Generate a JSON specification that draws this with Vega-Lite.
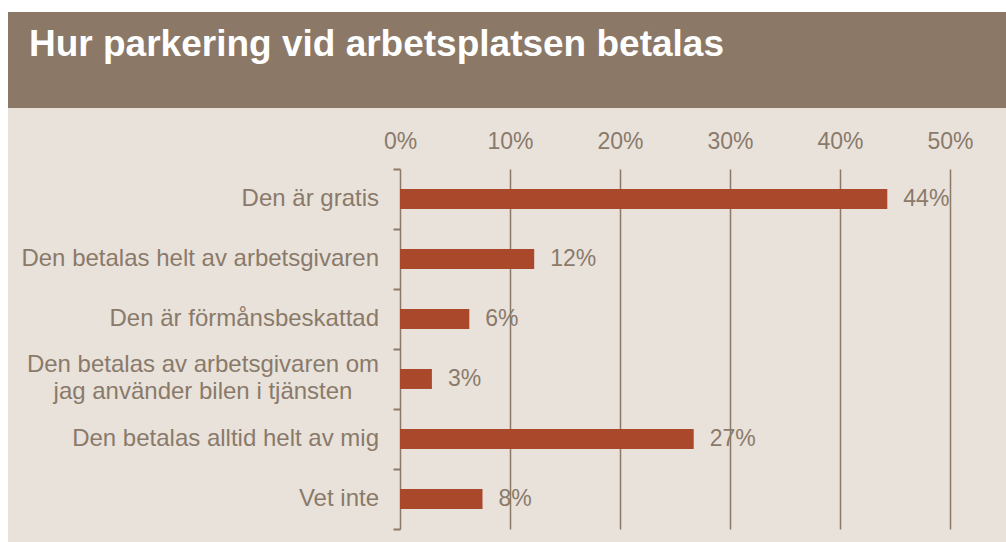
{
  "$schema": "https://vega.github.io/schema/vega-lite/v6.json",
  "background": "white",
  "padding": {"left": 8, "top": 12, "right": 0, "bottom": 0},
  "autosize": {"type": "pad"},
  "spacing": 0,
  "config": {"font": "Liberation Sans", "view": {"stroke": null}},
  "vconcat": [
    {
      "width": 998,
      "height": 96,
      "view": {"fill": "#8B7866", "stroke": null},
      "title": {
        "text": "Hur parkering vid arbetsplatsen betalas",
        "anchor": "start",
        "frame": "group",
        "orient": "top",
        "offset": -81,
        "baseline": "alphabetic",
        "dx": 21,
        "color": "#FFFFFF",
        "fontSize": 37,
        "fontWeight": "bold",
        "font": "Liberation Sans"
      },
      "data": {"values": [{"t": ""}]},
      "mark": {"type": "text", "color": "#8B7866"},
      "encoding": {"text": {"field": "t"}}
    },
    {
      "width": 998,
      "height": 434,
      "view": {"fill": "#E9E2DB", "stroke": null},
      "data": {
        "values": [
          {"svar": "Den är gratis", "andel": 44.3, "etikett": "44%", "rader": 1},
          {"svar": "Den betalas helt av arbetsgivaren", "andel": 12.2, "etikett": "12%", "rader": 1},
          {"svar": "Den är förmånsbeskattad", "andel": 6.3, "etikett": "6%", "rader": 1},
          {"svar": "Den betalas av arbetsgivaren om|jag använder bilen i tjänsten", "andel": 2.9, "etikett": "3%", "rader": 2},
          {"svar": "Den betalas alltid helt av mig", "andel": 26.7, "etikett": "27%", "rader": 1},
          {"svar": "Vet inte", "andel": 7.5, "etikett": "8%", "rader": 1}
        ]
      },
      "encoding": {
        "y": {
          "field": "svar",
          "type": "nominal",
          "sort": null,
          "scale": {"paddingInner": 0, "paddingOuter": 0.6167, "align": 0.824},
          "axis": {
            "orient": "left",
            "offset": -392,
            "title": null,
            "domain": false,
            "labels": false,
            "ticks": true,
            "tickBand": "extent",
            "tickSize": 7,
            "tickWidth": 2,
            "tickColor": "#8B7866",
            "grid": false
          }
        }
      },
      "layer": [
        {
          "mark": {"type": "bar", "color": "#AA482B", "height": {"band": 0.333}},
          "encoding": {
            "x": {
              "field": "andel",
              "type": "quantitative",
              "scale": {"domain": [0, 50], "range": [392, 942], "nice": false, "zero": true},
              "axis": {
                "orient": "top",
                "offset": -61,
                "title": null,
                "values": [0, 10, 20, 30, 40, 50],
                "labelExpr": "datum.value + '%'",
                "domain": false,
                "grid": false,
                "ticks": true,
                "tickSize": -360,
                "tickWidth": 1.5,
                "tickColor": "#8B7866",
                "labelPadding": 381,
                "labelBaseline": "alphabetic",
                "labelFont": "Liberation Sans",
                "labelFontSize": 23,
                "labelColor": "#8A7A6A",
                "labelFlush": false,
                "labelOverlap": false
              }
            }
          }
        },
        {
          "mark": {"type": "text", "align": "left", "baseline": "middle", "dx": 16, "fontSize": 23, "font": "Liberation Sans", "color": "#8A7A6A"},
          "encoding": {
            "x": {"field": "andel", "type": "quantitative"},
            "text": {"field": "etikett"}
          }
        },
        {
          "transform": [{"filter": "datum.rader == 1"}],
          "mark": {"type": "text", "align": "right", "baseline": "middle", "dx": -21, "fontSize": 24, "font": "Liberation Sans", "color": "#8A7A6A"},
          "encoding": {
            "x": {"datum": 0, "type": "quantitative"},
            "text": {"field": "svar"}
          }
        },
        {
          "transform": [{"filter": "datum.rader == 2"}],
          "mark": {"type": "text", "align": "center", "baseline": "middle", "dx": -197, "dy": -13.5, "lineBreak": "|", "lineHeight": 27, "fontSize": 24, "font": "Liberation Sans", "color": "#8A7A6A"},
          "encoding": {
            "x": {"datum": 0, "type": "quantitative"},
            "text": {"field": "svar"}
          }
        }
      ]
    }
  ]
}
